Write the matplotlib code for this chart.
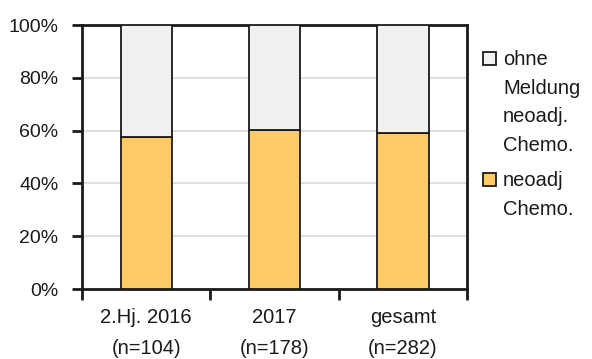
import matplotlib
matplotlib.use("Agg")
import matplotlib.pyplot as plt
from matplotlib.patches import Rectangle

# Data
categories = ["2.Hj. 2016\n(n=104)", "2017\n(n=178)", "gesamt\n(n=282)"]
neoadj_pct = [57.7, 60.1, 59.2]
ohne_pct = [100 - v for v in neoadj_pct]
legend_labels = ["ohne\nMeldung\nneoadj.\nChemo.", "neoadj\nChemo."]
ytick_vals = [0, 20, 40, 60, 80, 100]

col_neoadj = "#FDCA68"
col_ohne = "#F1F1EF"
ink = "#1a1a1a"

plt.rcParams["font.family"] = ["Liberation Sans", "DejaVu Sans"]
plt.rcParams["text.color"] = ink

fig = plt.figure(figsize=(5.92, 3.59), dpi=100)
ax = fig.add_axes([82 / 592, 1 - 289 / 359, 385 / 592, 264 / 359])

x = range(len(categories))
ax.bar(x, neoadj_pct, width=0.4, color=col_neoadj, edgecolor=ink, linewidth=1.3, zorder=3)
ax.bar(x, ohne_pct, bottom=neoadj_pct, width=0.4, color=col_ohne, edgecolor=ink,
       linewidth=1.3, zorder=3)

ax.set_xlim(-0.5, 2.5)
ax.set_ylim(0, 100)
ax.set_yticks(ytick_vals)
ax.set_yticklabels([f"{v}%" for v in ytick_vals], fontsize=14, color=ink)
ax.yaxis.grid(True, color="#d9d9d9", linewidth=1.2, zorder=0)

# category labels centred, tick marks on category boundaries
ax.set_xticks([0, 1, 2])
ax.set_xticklabels(categories, fontsize=14.5, linespacing=1.75, color=ink)
ax.tick_params(axis="x", which="major", length=0, pad=14)
ax.set_xticks([-0.5, 0.5, 1.5, 2.5], minor=True)
ax.tick_params(axis="x", which="minor", length=8, width=2, color=ink)
ax.tick_params(axis="y", length=7, width=2, color=ink, pad=10)

for s in ax.spines.values():
    s.set_linewidth(2)
    s.set_color(ink)

# legend drawn beside the axes
fig_w, fig_h = 592, 359
def fx(px):
    return px / fig_w
def fy(py):
    return 1 - py / fig_h

entries = [(legend_labels[0], col_ohne, 52), (legend_labels[1], col_neoadj, 173)]
for label, col, top in entries:
    fig.patches.append(Rectangle((fx(483), fy(top + 13)), 13 / fig_w, 13 / fig_h,
                                 transform=fig.transFigure, facecolor=col,
                                 edgecolor=ink, linewidth=1.3))
    fig.text(fx(503), fy(top - 2), label, fontsize=14.5, va="top", ha="left",
             linespacing=1.65)

fig.savefig("out.png", dpi=100)
